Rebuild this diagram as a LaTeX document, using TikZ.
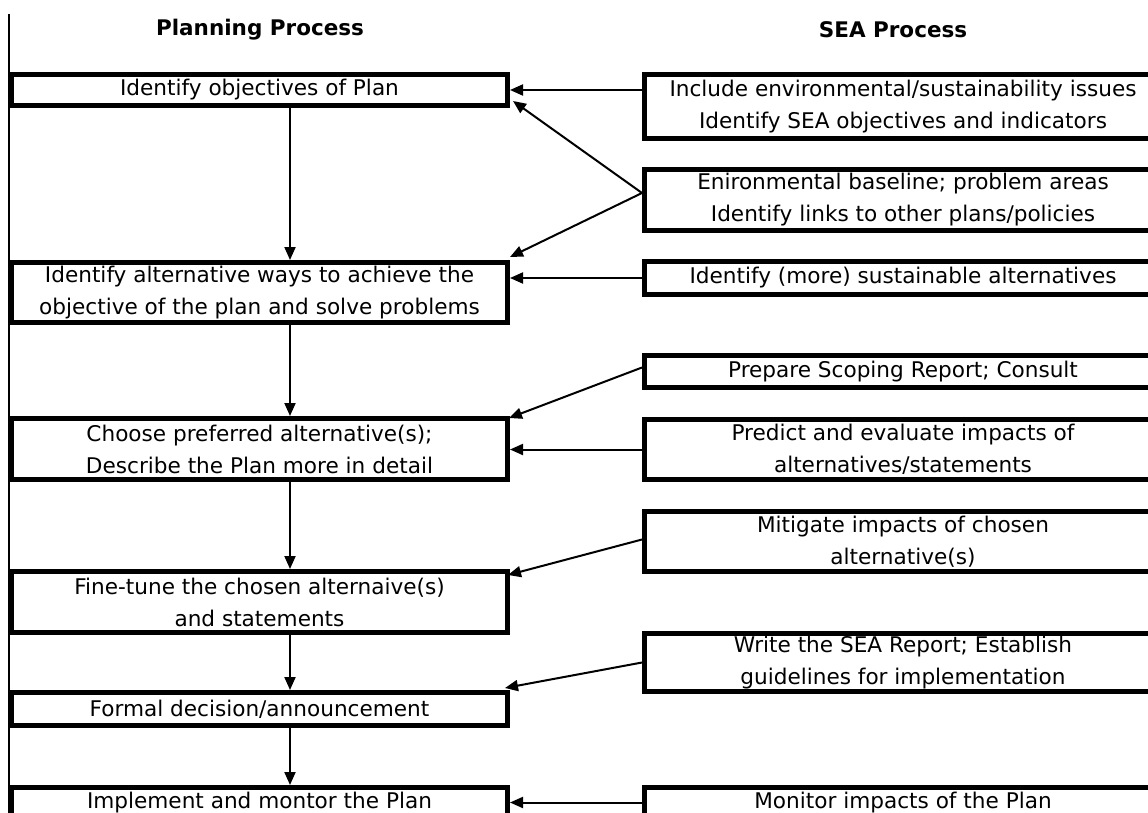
\documentclass[tikz,border=0pt]{standalone}
\usepackage{fontspec}
\setmainfont{DejaVu Sans}
\usetikzlibrary{arrows.meta}
\begin{document}
\begin{tikzpicture}[x=1pt,y=-1pt,
  box/.style={draw, line width=5pt, line join=miter, inner sep=0pt, align=center,
    font=\fontsize{21.6}{32}\selectfont},
  lbox/.style={box, minimum width=496pt},
  rbox/.style={box, minimum width=517pt},
  head/.style={font=\bfseries\fontsize{21.5}{25}\selectfont},
  arr/.style={line width=2pt, -{Triangle[length=13pt,width=11pt]}}]
\useasboundingbox (0,0) rectangle (1148,813);
\clip (0,0) rectangle (1148,813);
\fill[white] (0,0) rectangle (1148,813);
\draw[line width=1.5pt] (9,14) -- (9,813);
\node[head] (hp) at (260,30) {Planning Process};
\node[head] (hs) at (893,30) {SEA Process};
% left column
\node[lbox, minimum height=31pt] (L1) at (259.5,90) {Identify objectives of Plan};
\node[lbox, minimum height=60pt] (L2) at (259.5,292.5) {Identify alternative ways to achieve the\\objective of the plan and solve problems};
\node[lbox, minimum height=61pt] (L3) at (259.5,449) {Choose preferred alternative(s);\\Describe the Plan more in detail};
\node[lbox, minimum height=61pt] (L4) at (259.5,602) {Fine-tune the chosen alternaive(s)\\and statements};
\node[lbox, minimum height=33pt] (L5) at (259.5,709) {Formal decision/announcement};
\node[lbox, minimum height=30pt] (L6) at (259.5,802.5) {Implement and montor the Plan};
% right column
\node[rbox, minimum height=64pt] (R1) at (903,106.5) {Include environmental/sustainability issues\\Identify SEA objectives and indicators};
\node[rbox, minimum height=61pt] (R2) at (903,200) {Enironmental baseline; problem areas\\Identify links to other plans/policies};
\node[rbox, minimum height=33pt] (R3) at (903,278) {Identify (more) sustainable alternatives};
\node[rbox, minimum height=32pt] (R4) at (903,371.5) {Prepare Scoping Report; Consult};
\node[rbox, minimum height=60pt] (R5) at (903,449.5) {Predict and evaluate impacts of\\alternatives/statements};
\node[rbox, minimum height=60pt] (R6) at (903,541.5) {Mitigate impacts of chosen\\alternative(s)};
\node[rbox, minimum height=58pt] (R7) at (903,662.5) {Write the SEA Report; Establish\\guidelines for implementation};
\node[rbox, minimum height=30pt] (R8) at (903,802.5) {Monitor impacts of the Plan};
% vertical flow
\draw[arr] ([shift={(30.5,0)}]L1.south) -- ([shift={(30.5,0)}]L2.north);
\draw[arr] ([shift={(30.5,0)}]L2.south) -- ([shift={(30.5,0)}]L3.north);
\draw[arr] ([shift={(30.5,0)}]L3.south) -- ([shift={(30.5,0)}]L4.north);
\draw[arr] ([shift={(30.5,0)}]L4.south) -- ([shift={(30.5,0)}]L5.north);
\draw[arr] ([shift={(30.5,0)}]L5.south) -- ([shift={(30.5,0)}]L6.north);
% from SEA to planning
\draw[arr] (L1.east -| R1.west) -- (L1.east);
\draw[arr] ([shift={(0,-7)}]R2.west) -- ([shift={(3,-7)}]L1.south east);
\draw[arr] ([shift={(0,-7)}]R2.west) -- ([shift={(0,-3)}]L2.north east);
\draw[arr] (R3.west) -- (R3.west -| L2.east);
\draw[arr] ([shift={(0,-4)}]R4.west) -- ([shift={(-1,2)}]L3.north east);
\draw[arr] (R5.west) -- (R5.west -| L3.east);
\draw[arr] ([shift={(0,-2)}]R6.west) -- ([shift={(-2,6)}]L4.north east);
\draw[arr] (R7.west) -- ([shift={(-5,-2)}]L5.north east);
\draw[arr] (R8.west) -- (L6.east);
\end{tikzpicture}
\end{document}
